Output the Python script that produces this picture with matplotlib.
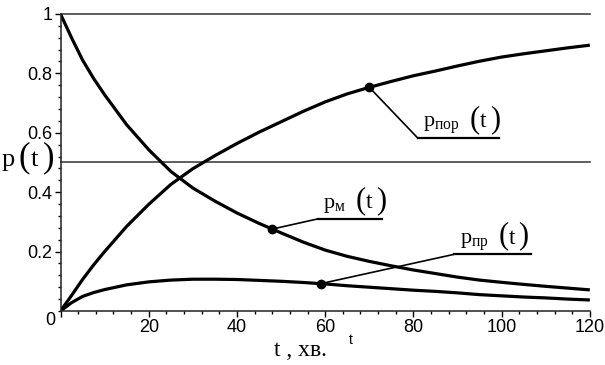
import numpy as np
import matplotlib
matplotlib.use("Agg")
import matplotlib.pyplot as plt
import matplotlib.transforms as mtransforms

# values (t in minutes)
t = [0, 2.5, 5, 7.5, 10, 15, 20, 25, 30, 35, 40, 45, 50, 55, 60, 65, 70, 75,
     80, 85, 90, 95, 100, 105, 110, 115, 120]
p_m = [1.000, 0.920, 0.845, 0.783, 0.728, 0.627, 0.543, 0.470, 0.414, 0.370,
       0.330, 0.295, 0.263, 0.232, 0.205, 0.184, 0.167, 0.152, 0.138, 0.126,
       0.114, 0.104, 0.0965, 0.0895, 0.083, 0.077, 0.071]
p_pr = [0, 0.028, 0.049, 0.062, 0.072, 0.088, 0.098, 0.104, 0.107, 0.107,
        0.106, 0.103, 0.100, 0.096, 0.091, 0.085, 0.080, 0.075, 0.070, 0.066,
        0.061, 0.055, 0.051, 0.047, 0.044, 0.040, 0.037]
p_por = [0, 0.052, 0.106, 0.155, 0.200, 0.285, 0.359, 0.426, 0.479, 0.523,
         0.564, 0.602, 0.637, 0.672, 0.704, 0.731, 0.753, 0.773, 0.792, 0.808,
         0.825, 0.841, 0.855, 0.866, 0.876, 0.886, 0.895]

ref_lines = [1.0, 0.5]
x_ticks = [0, 20, 40, 60, 80, 100, 120]
y_ticks = [0.2, 0.4, 0.6, 0.8, 1.0]
y_ticklabels = ["0.2", "0.4", "0.6", "0.8", "1"]

# label name, t of the dot, leader end (t, p), underline end t
labels = [
    ("пор", p_por, 70, (81.0, 0.582), 99.5),
    ("м", p_m, 48, (58.3, 0.310), 72.8),
    ("пр", p_pr, 59, (89.3, 0.191), 106.7),
]

plt.rcParams["mathtext.fontset"] = "custom"
plt.rcParams["mathtext.rm"] = "Liberation Serif"
plt.rcParams["mathtext.it"] = "Liberation Serif:italic"
serif = "Liberation Serif"

fig = plt.figure(figsize=(6.05, 3.65), dpi=100)
ax = fig.add_axes([0.100, 0.148, 0.875, 0.8137])


def bracket_t(xy, coords, x0, size_b=22, size_t=17, step=(10, 20)):
    # Maple draws "(t)" with tall thin brackets
    for s, dx, fs in (("(", 0, size_b), ("t", step[0], size_t), (")", step[1], size_b)):
        ax.annotate(s, xy=xy, xycoords=coords, xytext=(x0 + dx, 0),
                    textcoords="offset pixels", family=serif, fontsize=fs,
                    ha="left", va="baseline", annotation_clip=False)


for y in ref_lines:
    ax.plot([0, 120], [y, y], color="#333333", lw=1.1, clip_on=False)

for ys in (p_m, p_por, p_pr):
    ax.plot(t, ys, color="black", lw=2.3, solid_capstyle="butt")

name_texts = []
for name, ys, tm, (lx, ly), ux in labels:
    ym = np.interp(tm, t, ys)
    ax.plot([tm, lx], [ym, ly], color="black", lw=1.2)
    ax.plot([lx, ux], [ly, ly], color="black", lw=1.6)
    ax.plot(tm, ym, "o", color="black", ms=6)
    txt = ax.text(lx + 1.2, ly + 0.036, r"$\mathrm{p}_{\mathrm{" + name + r"}}$",
                  fontsize=16, ha="left", va="baseline")
    name_texts.append(txt)

ax.set_xlim(0, 120)
ax.set_ylim(0, 1)
for s in ("top", "right"):
    ax.spines[s].set_visible(False)
for s in ("left", "bottom"):
    ax.spines[s].set_linewidth(1.1)
    ax.spines[s].set_color("#222222")

tick_font = ["Liberation Sans Narrow", "Liberation Sans"]
ax.set_xticks(x_ticks)
ax.set_xticklabels([""] + [str(v) for v in x_ticks[1:]], family=tick_font, fontsize=13)
ax.set_yticks(y_ticks)
ax.set_yticklabels(y_ticklabels, family=tick_font, fontsize=13)
ax.set_xticks(np.arange(0, 121, 4), minor=True)
ax.set_yticks(np.arange(0, 1.001, 0.04), minor=True)
ax.tick_params(which="major", length=4, width=1, pad=2, direction="out")
ax.tick_params(which="minor", length=2.5, width=1, direction="out")

# origin label
off = mtransforms.offset_copy(ax.transAxes, fig=fig, x=-10, y=-10, units="dots")
ax.text(0, 0, "0", transform=off, family=tick_font, fontsize=13, ha="center", va="center")

# y label p(t)
fig.text(2 / 605, 0.545, "p", family=serif, fontsize=19, ha="left", va="baseline")
bracket_t((2 / 605, 0.545), "figure fraction", 17, size_b=25, size_t=19, step=(12, 24))

fig.text(0.497, 0.040, "t , хв.", family=serif, fontsize=17, ha="center", va="center")
fig.text(0.579, 0.068, "t", family="Liberation Sans", fontsize=10,
         ha="center", va="center")

# "(t)" after each subscripted name
fig.canvas.draw()
renderer = fig.canvas.get_renderer()
for txt in name_texts:
    w = txt.get_window_extent(renderer).width
    bracket_t(txt.get_position(), "data", w + 10)

fig.savefig("out.png", dpi=100)
